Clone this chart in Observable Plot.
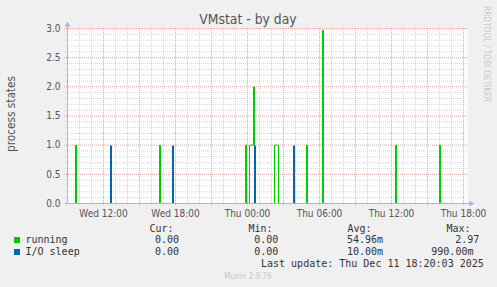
<!DOCTYPE html>
<html><head><meta charset="utf-8">
<script src="https://cdn.jsdelivr.net/npm/d3@7"></script>
<script src="https://cdn.jsdelivr.net/npm/@observablehq/plot@0.6"></script>
<style>
html,body{margin:0;padding:0;background:#f0f0f0;}
#chart{position:relative;width:497px;height:287px;overflow:hidden;background:#f0f0f0;font-family:"DejaVu Sans Condensed","DejaVu Sans",sans-serif;}
#chart svg{position:absolute;left:0;top:0;}
.t{position:absolute;white-space:pre;line-height:12px;}
.mono{font-family:"DejaVu Sans Mono",monospace;font-size:10px;color:#333;}
.rot{position:absolute;white-space:pre;transform:translate(-50%,-50%) rotate(-90deg);}
.sq{position:absolute;width:6px;height:6px;}
</style></head><body><div id="chart"></div>
<script>
// ---- data ----
const timeDomain = ["2025-12-10T09:00", "2025-12-11T18:20"];
const runningTimes = ["2025-12-10T09:00","2025-12-10T09:40","2025-12-10T09:45","2025-12-10T16:40","2025-12-10T16:45",
  "2025-12-10T23:50","2025-12-10T23:55","2025-12-11T00:10","2025-12-11T00:30","2025-12-11T00:35",
  "2025-12-11T02:15","2025-12-11T02:35","2025-12-11T04:55","2025-12-11T05:00","2025-12-11T06:15","2025-12-11T06:20",
  "2025-12-11T12:20","2025-12-11T12:25","2025-12-11T16:00","2025-12-11T16:05","2025-12-11T18:20"];
const runningValues = [0,1,0,1,0, 1,0,1,2,0, 1,0,1,0,2.97,0, 1,0,1,0,0];
const ioTimes = ["2025-12-10T09:00","2025-12-10T12:35","2025-12-10T12:40","2025-12-10T17:45","2025-12-10T17:50",
  "2025-12-11T00:35","2025-12-11T00:40","2025-12-11T03:50","2025-12-11T03:55","2025-12-11T18:20"];
const ioValues = [0,0.99,0,0.99,0,0.99,0,0.99,0,0];
const xTickTimes = ["2025-12-10T12:00","2025-12-10T18:00","2025-12-11T00:00","2025-12-11T06:00","2025-12-11T12:00","2025-12-11T18:00"];
const xTickLabels = ["Wed 12:00","Wed 18:00","Thu 00:00","Thu 06:00","Thu 12:00","Thu 18:00"];
const yTicks = [0,0.5,1,1.5,2,2.5,3];
const yTickLabels = ["0.0","0.5","1.0","1.5","2.0","2.5","3.0"];
const seriesNames = ["running","I/O sleep"];
const seriesColors = ["#00cc00","#0066b3"];
const statHeaders = ["Cur:","Min:","Avg:","Max:"];
const runningStats = ["0.00","0.00","54.96m","2.97"];
const ioStats = ["0.00","0.00","10.00m","990.00m"];
const title = "VMstat - by day";
const yLabel = "process states";
const lastUpdate = "Last update: Thu Dec 11 18:20:03 2025";
const footer = "Munin 2.0.76";
const sideText = "RRDTOOL / TOBI OETIKER";

// ---- build ----
const P = s => new Date(s);
const [t0, t1] = timeDomain.map(P);
const running = runningTimes.map((t,i) => ({t: P(t), v: runningValues[i]}));
const io = ioTimes.map((t,i) => ({t: P(t), v: ioValues[i]}));
const xTicks = xTickTimes.map((t,i) => ({t: P(t), label: xTickLabels[i]}));
const majorX = d3.timeHour.every(3).range(t0, t1).filter(d => +d !== +t0);
const minorX = d3.timeHour.range(t0, t1).filter(d => d.getHours() % 3 !== 0);
const minorY = d3.range(1, 30).filter(i => i % 5 !== 0).map(i => i / 10);
const axisColor = "#a9b0ea";
const minorColor = "#d4d4d4";
const majorColor = "#e9a3a3";
const upArrow = {draw(c){c.moveTo(0,-3);c.lineTo(2.7,2);c.lineTo(-2.7,2);c.closePath();}};
const rightArrow = {draw(c){c.moveTo(3,0);c.lineTo(-2,-2.7);c.lineTo(-2,2.7);c.closePath();}};
const font = '"DejaVu Sans Condensed","DejaVu Sans",sans-serif';

const plot = Plot.plot({
  width: 497, height: 287,
  marginLeft: 67, marginRight: 30, marginTop: 28, marginBottom: 84,
  style: {background: "transparent", color: "#555", fontFamily: font},
  x: {type: "time", domain: [t0, t1], axis: null},
  y: {domain: [0, 3], axis: null},
  marks: [
    Plot.frame({fill: "white", stroke: "none"}),
    Plot.ruleX(minorX, {stroke: minorColor, strokeDasharray: "1,1", insetBottom: -2}),
    Plot.ruleY(minorY, {stroke: minorColor, strokeDasharray: "1,1", insetLeft: -2}),
    Plot.ruleX(majorX, {stroke: majorColor, strokeDasharray: "1,1", insetBottom: -3}),
    Plot.ruleY(yTicks.slice(1), {stroke: majorColor, strokeDasharray: "1,1", insetLeft: -3}),
    Plot.line(running, {x: "t", y: "v", curve: "step-after", stroke: seriesColors[0], strokeWidth: 1}),
    Plot.line(io, {x: "t", y: "v", curve: "step-after", stroke: seriesColors[1], strokeWidth: 1}),
    Plot.ruleY([0], {stroke: axisColor, insetLeft: -2, insetRight: -3}),
    Plot.ruleX([t0], {stroke: axisColor, insetTop: -2}),
    Plot.dot([t0], {x: d => d, y: () => 3, dy: -4, symbol: upArrow, fill: axisColor, stroke: "none"}),
    Plot.dot([t1], {x: d => d, y: () => 0, dx: 4, symbol: rightArrow, fill: axisColor, stroke: "none"}),
    Plot.text(xTicks, {x: "t", y: () => 0, text: "label", dy: 10, fontSize: 10, fill: "#555"}),
    Plot.text(yTicks, {x: () => t0, y: d => d, text: (d,i) => yTickLabels[i], dx: -7, textAnchor: "end", fontSize: 10, fill: "#555"})
  ]
});
const chart = document.getElementById("chart");
chart.appendChild(plot);

function addText(txt, cls, left, cy, extra) {
  const d = document.createElement("div");
  d.className = cls; d.textContent = txt;
  d.style.left = left + "px"; d.style.top = (cy - 6) + "px";
  if (extra) Object.assign(d.style, extra);
  chart.appendChild(d); return d;
}
addText(title, "t", 248, 19, {transform: "translateX(-50%)", fontSize: "13.8px", color: "#555", lineHeight: "12px"});
const yl = document.createElement("div");
yl.className = "rot"; yl.textContent = yLabel;
Object.assign(yl.style, {left: "11px", top: "114px", fontSize: "11.7px", color: "#555"});
chart.appendChild(yl);
const st = document.createElement("div");
st.className = "rot"; st.textContent = sideText;
Object.assign(st.style, {left: "487px", top: "54px", fontSize: "8.3px", color: "#c8c8c8", transform: "translate(-50%,-50%) rotate(90deg)"});
chart.appendChild(st);

const headerX = [149.5, 248.5, 347.5, 446.5];
statHeaders.forEach((h,i) => addText(h, "t mono", headerX[i], 228.5));
const rowY = [239.5, 251.5];
const rowStats = [runningStats, ioStats];
const statX = [[155, 254.3, 347, 455.3], [155, 254.3, 347, 431.3]];
seriesNames.forEach((n, r) => {
  const sq = document.createElement("div");
  sq.className = "sq";
  Object.assign(sq.style, {left: "13.5px", top: (rowY[r] - 3) + "px", background: seriesColors[r]});
  chart.appendChild(sq);
  addText(n, "t mono", 25.5, rowY[r]);
  rowStats[r].forEach((s, i) => addText(s, "t mono", statX[r][i], rowY[r]));
});
addText(lastUpdate, "t mono", 261, 264);
addText(footer, "t", 248, 276, {transform: "translateX(-50%)", fontSize: "8.1px", color: "#c8c8c8"});
</script></body></html>
